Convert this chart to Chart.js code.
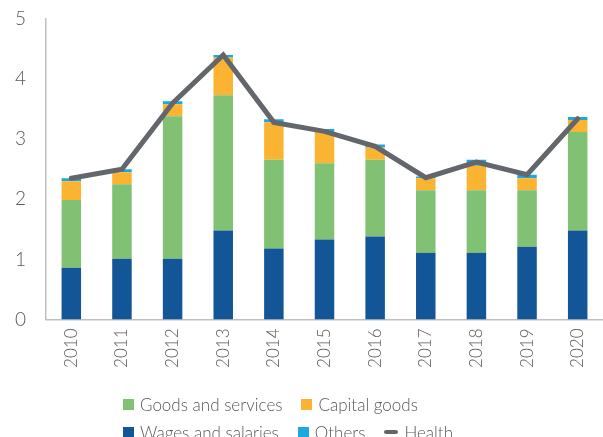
<!DOCTYPE html>
<html>
<head>
<meta charset="utf-8">
<script src="https://cdn.jsdelivr.net/npm/chart.js@4/dist/chart.umd.min.js"></script>
<style>
  html, body { margin: 0; padding: 0; background: #fff; }
  #wrap { position: relative; width: 603px; height: 437px; overflow: hidden; }
  #chart { position: absolute; left: 0; top: 0; }
  .legend { position: absolute; left: 123px; font-family: Lato, sans-serif; font-weight: 300;
            font-size: 17px; color: #595959; white-space: nowrap; }
  .legend .row { display: flex; align-items: center; height: 28px; }
  .legend .item { display: flex; align-items: center; margin-right: 19px; }
  .legend .box { width: 11px; height: 11px; margin-right: 6px; }
  .legend .ln { width: 14px; height: 4px; border-radius: 2px; margin-right: 6px; }
</style>
</head>
<body>
<div id="wrap">
  <canvas id="chart" width="603" height="437"></canvas>
  <div class="legend" id="legend" style="top:390px"></div>
</div>
<script>
const years = ['2010','2011','2012','2013','2014','2015','2016','2017','2018','2019','2020'];
const wages   = [0.86, 1.01, 1.01, 1.48, 1.18, 1.33, 1.38, 1.11, 1.11, 1.21, 1.48];
const goods   = [1.13, 1.24, 2.37, 2.25, 1.48, 1.27, 1.28, 1.04, 1.04, 0.94, 1.64];
const capital = [0.31, 0.20, 0.20, 0.63, 0.62, 0.52, 0.20, 0.20, 0.41, 0.20, 0.20];
const others  = [0.05, 0.05, 0.05, 0.04, 0.05, 0.05, 0.05, 0.03, 0.10, 0.06, 0.05];
const health  = [2.35, 2.50, 3.60, 4.40, 3.28, 3.13, 2.88, 2.36, 2.62, 2.41, 3.34];
const yTicks  = [0, 1, 2, 3, 4, 5];

const COLORS = {
  wages: '#135697',
  goods: '#80C173',
  capital: '#FBB432',
  others: '#1BA8E0',
  health: '#63666A'
};

const barDefaults = { type: 'bar', stack: 'spend', order: 2, barPercentage: 0.385, categoryPercentage: 1, borderWidth: 0 };

new Chart(document.getElementById('chart'), {
  type: 'bar',
  data: {
    labels: years,
    datasets: [
      Object.assign({ label: 'Wages and salaries', data: wages, backgroundColor: COLORS.wages }, barDefaults),
      Object.assign({ label: 'Goods and services', data: goods, backgroundColor: COLORS.goods }, barDefaults),
      Object.assign({ label: 'Capital goods', data: capital, backgroundColor: COLORS.capital }, barDefaults),
      Object.assign({ label: 'Others', data: others, backgroundColor: COLORS.others }, barDefaults),
      {
        type: 'line', label: 'Health', data: health, stack: 'total', order: 1,
        borderColor: COLORS.health, borderWidth: 5, pointRadius: 0, pointHoverRadius: 0,
        borderCapStyle: 'round', fill: false, tension: 0
      }
    ]
  },
  options: {
    responsive: false,
    animation: false,
    layout: { padding: { top: 19, right: 0, left: 0, bottom: 0 } },
    plugins: { legend: { display: false }, tooltip: { enabled: false } },
    scales: {
      x: {
        stacked: true,
        grid: { display: false, drawTicks: false },
        border: { display: true, color: '#BFBFBF', width: 1.5 },
        ticks: {
          minRotation: 90, maxRotation: 90, padding: 9,
          color: '#595959', font: { family: 'Lato', weight: 300, size: 17 }
        },
        afterFit: s => { s.height = 117.5; s.paddingLeft = 0; s.paddingRight = 0; }
      },
      y: {
        stacked: true,
        min: 0, max: 5,
        afterBuildTicks: s => { s.ticks = yTicks.map(v => ({ value: v })); },
        grid: { display: false, drawTicks: false },
        border: { display: true, color: '#BFBFBF', width: 1.5 },
        ticks: {
          padding: 20, color: '#595959',
          font: { family: 'Lato', weight: 300, size: 19 }
        },
        afterFit: s => { s.width = 46; s.paddingTop = 0; }
      }
    }
  }
});

// Legend laid out in two rows below the axis
const legendRows = [
  [['box', COLORS.goods, 'Goods and services'], ['box', COLORS.capital, 'Capital goods']],
  [['box', COLORS.wages, 'Wages and salaries'], ['box', COLORS.others, 'Others'], ['ln', COLORS.health, 'Health']]
];
const legendEl = document.getElementById('legend');
legendRows.forEach(row => {
  const r = document.createElement('div');
  r.className = 'row';
  row.forEach(([kind, color, text]) => {
    const it = document.createElement('div');
    it.className = 'item';
    const sw = document.createElement('span');
    sw.className = kind;
    sw.style.background = color;
    const t = document.createElement('span');
    t.textContent = text;
    it.appendChild(sw);
    it.appendChild(t);
    r.appendChild(it);
  });
  legendEl.appendChild(r);
});
</script>
</body>
</html>
